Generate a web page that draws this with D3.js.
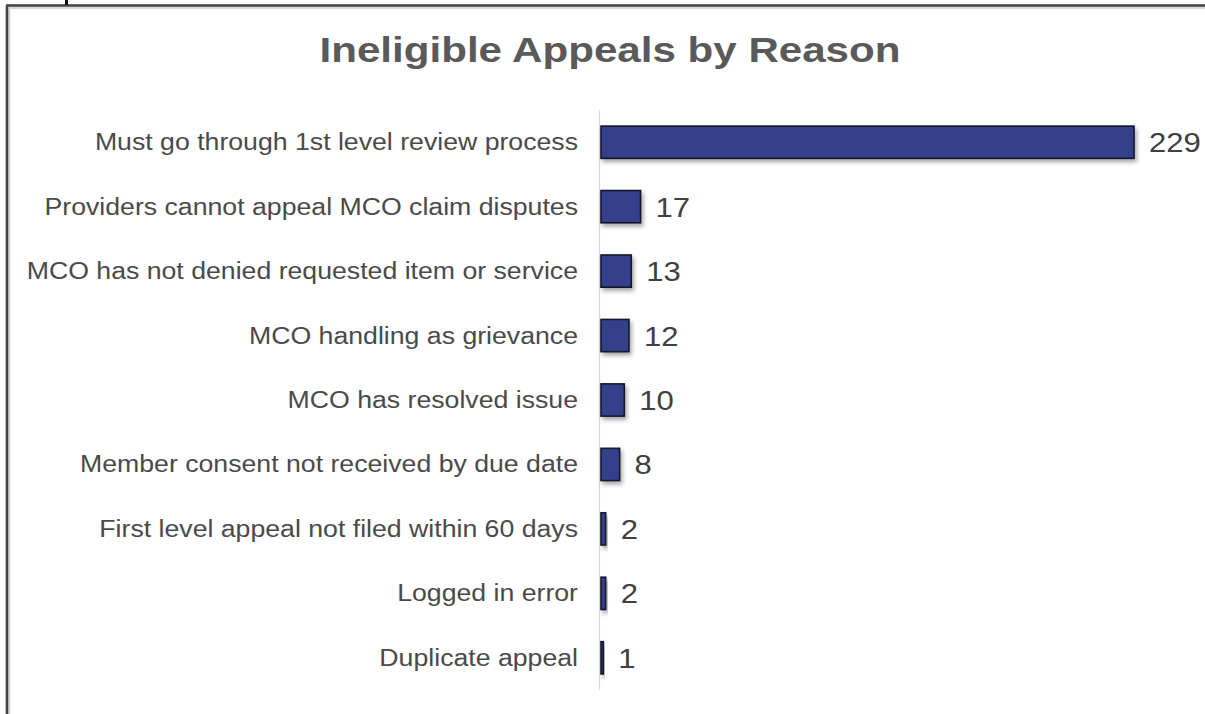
<!DOCTYPE html>
<html>
<head>
<meta charset="utf-8">
<script src="https://cdn.jsdelivr.net/npm/d3@7"></script>
<style>
  html, body { margin: 0; padding: 0; background: #fff; }
  svg { display: block; font-family: Arial, "Liberation Sans", sans-serif; }
</style>
</head>
<body>
<svg id="chart" width="1205" height="714"></svg>
<script>
// Ineligible appeals, counted by reason
const reasons = [
  "Must go through 1st level review process",
  "Providers cannot appeal MCO claim disputes",
  "MCO has not denied requested item or service",
  "MCO handling as grievance",
  "MCO has resolved issue",
  "Member consent not received by due date",
  "First level appeal not filed within 60 days",
  "Logged in error",
  "Duplicate appeal"
];
const counts = [229, 17, 13, 12, 10, 8, 2, 2, 1];
const chartTitle = "Ineligible Appeals by Reason";

const svg = d3.select("#chart");
const W = 1205, H = 714;

// soft drop shadow under each bar
const defs = svg.append("defs");
const f = defs.append("filter").attr("id", "shadow")
  .attr("x", "-20%").attr("y", "-40%").attr("width", "160%").attr("height", "200%");
f.append("feDropShadow").attr("dx", 2).attr("dy", 3).attr("stdDeviation", 2)
  .attr("flood-color", "#000").attr("flood-opacity", 0.35);

// frame: top and left border
svg.append("line").attr("x1", 7).attr("x2", W).attr("y1", 6.5).attr("y2", 6.5)
  .attr("stroke", "#d8d8d8").attr("stroke-width", 5);
svg.append("line").attr("x1", 8).attr("x2", 8).attr("y1", 6).attr("y2", H)
  .attr("stroke", "#d8d8d8").attr("stroke-width", 5);
svg.append("line").attr("x1", 6).attr("x2", W).attr("y1", 5.5).attr("y2", 5.5)
  .attr("stroke", "#444", 1).attr("stroke-width", 2.5);
svg.append("line").attr("x1", 7).attr("x2", 7).attr("y1", 5).attr("y2", H)
  .attr("stroke", "#444").attr("stroke-width", 2.5);
svg.append("line").attr("x1", 66.5).attr("x2", 66.5).attr("y1", 0).attr("y2", 5)
  .attr("stroke", "#111").attr("stroke-width", 3);

// scales
const x = d3.scaleLinear().domain([0, d3.max(counts)]).range([600, 1133]);
const y = d3.scaleBand().domain(reasons).range([110, 690]).paddingInner(0.5).paddingOuter(0.25);

// title
svg.append("text")
  .attr("transform", "translate(610,62) scale(1.17,1)")
  .attr("text-anchor", "middle")
  .attr("font-size", 36).attr("font-weight", "bold")
  .attr("fill", "#5a5a5a")
  .text(chartTitle);

// category axis line
svg.append("line")
  .attr("x1", x(0) - 0.5).attr("x2", x(0) - 0.5)
  .attr("y1", y.range()[0]).attr("y2", y.range()[1])
  .attr("stroke", "#d9d9d9").attr("stroke-width", 1.2);

const rows = reasons.map((r, i) => ({ reason: r, count: counts[i] }));

// bars
svg.append("g").selectAll("rect").data(rows).join("rect")
  .attr("x", x(0) + 1)
  .attr("y", d => y(d.reason))
  .attr("width", d => x(d.count) - x(0))
  .attr("height", y.bandwidth())
  .attr("fill", "#363f8c")
  .attr("stroke", "#15162a")
  .attr("stroke-width", 1.6)
  .attr("filter", "url(#shadow)");

// category labels
svg.append("g").selectAll("text").data(rows).join("text")
  .attr("transform", d => `translate(578,${y(d.reason) + y.bandwidth() / 2 + 8}) scale(1.16,1)`)
  .attr("text-anchor", "end")
  .attr("font-size", 23)
  .attr("fill", "#4a4a4a")
  .text(d => d.reason);

// value labels
svg.append("g").selectAll("text").data(rows).join("text")
  .attr("transform", d => `translate(${x(d.count) + 16},${y(d.reason) + y.bandwidth() / 2 + 10}) scale(1.15,1)`)
  .attr("font-size", 27)
  .attr("fill", "#404040")
  .text(d => d.count);
</script>
</body>
</html>
